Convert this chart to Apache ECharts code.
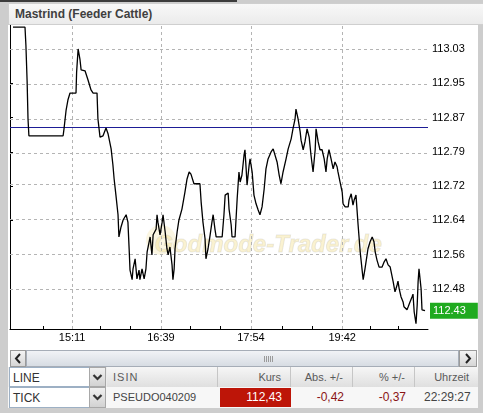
<!DOCTYPE html>
<html>
<head>
<meta charset="utf-8">
<script src="https://cdn.jsdelivr.net/npm/echarts@6.0.0/dist/echarts.min.js"></script>
<style>
  body { margin: 0; background: #cdcdcd; font-family: "Liberation Sans", Arial, sans-serif; }
  #frame { position: relative; width: 483px; height: 413px; overflow: hidden; background: #cdcdcd; }
  #tabbar { position: absolute; left: 0; top: 0; width: 237px; height: 2px; background: #3c3c3c; }
  #panel { position: absolute; left: 8px; top: 3px; width: 470px; height: 405px; background: #fff; }
  #titlebar { position: absolute; left: 8px; top: 3px; width: 468px; height: 20px; background: linear-gradient(#f8f8f8, #ebebeb);
    border: 1px solid #cfcfcf; font-weight: bold; font-size: 12px; color: #3f3f3f; line-height: 20px; padding-left: 6px; box-sizing: content-box; }
  #chart { position: absolute; left: 8px; top: 25px; width: 470px; height: 323px; }
  .btn { position: absolute; top: 350px; height: 15px; background: linear-gradient(#f4f4f4, #d6d6d6); border: 1px solid #9a9a9a; box-sizing: content-box; }
  #thumb { position: absolute; left: 26px; top: 350px; width: 431px; height: 15px; background: linear-gradient(#f1f3f6, #d7dce3); border: 1px solid #a6adb7; }
  #grip { position: absolute; left: 237px; top: 5px; width: 10px; height: 6px; background: repeating-linear-gradient(90deg, #9a9a9a 0 1px, transparent 1px 2px); }
  .row { position: absolute; left: 8px; width: 470px; }
  .cell { position: absolute; top: 0; height: 100%; box-sizing: border-box; font-size: 11px; padding: 0 9px; white-space: nowrap; }
  .hdr { background: linear-gradient(#f6f6f6, #dfdfdf); border-right: 1px solid #c6c6c6; color: #5a5a5a; }
  .sel { background: #fff; border: 1px solid #9db0c4; color: #333; padding-left: 3px; font-size: 12px; }
  .arr { background: linear-gradient(#f0f0f0, #d2d2d2); border: 1px solid #a8a8a8; padding: 0; }
  .r { text-align: right; }
</style>
</head>
<body>
<div id="frame">
  <div id="tabbar"></div>
  <div id="panel"></div>
  <div id="titlebar">Mastrind (Feeder Cattle)</div>
  <div id="chart"></div>

  <div class="btn" style="left:10px;width:14px;"><svg width="14" height="15"><polyline points="9,3 5,7.5 9,12" fill="none" stroke="#222" stroke-width="2"/></svg></div>
  <div id="thumb"><div id="grip"></div></div>
  <div class="btn" style="left:459px;width:16px;"><svg width="16" height="15"><polyline points="6,3 10,7.5 6,12" fill="none" stroke="#222" stroke-width="2"/></svg></div>

  <div class="row" style="top:367px;height:20px;line-height:20px;background:#ececec;">
    <div class="cell sel" style="left:1px;width:81px;">LINE</div>
    <div class="cell arr" style="left:81px;width:17px;"><svg width="15" height="18"><polyline points="3.5,7 7.5,11 11.5,7" fill="none" stroke="#333" stroke-width="2.2"/></svg></div>
    <div class="cell hdr" style="left:99px;width:111px;letter-spacing:1px;padding-left:6px;">ISIN</div>
    <div class="cell hdr r" style="left:210px;width:73px;">Kurs</div>
    <div class="cell hdr r" style="left:283px;width:62px;">Abs. +/-</div>
    <div class="cell hdr r" style="left:345px;width:62px;">% +/-</div>
    <div class="cell hdr r" style="left:407px;width:63px;border-right:none;">Uhrzeit</div>
  </div>
  <div class="row" style="top:387px;height:21px;line-height:21px;background:#f7f7f7;">
    <div class="cell sel" style="left:1px;width:81px;">TICK</div>
    <div class="cell arr" style="left:81px;width:17px;"><svg width="15" height="18"><polyline points="3.5,7 7.5,11 11.5,7" fill="none" stroke="#333" stroke-width="2.2"/></svg></div>
    <div class="cell" style="left:99px;width:111px;color:#444;padding-left:6px;">PSEUDO040209</div>
    <div class="cell r" style="left:212px;top:1px;height:19px;line-height:19px;width:71px;background:#bd1508;color:#fff;font-size:12px;">112,43</div>
    <div class="cell r" style="left:283px;width:62px;color:#8a1414;font-size:12px;">-0,42</div>
    <div class="cell r" style="left:345px;width:62px;color:#8a1414;font-size:12px;">-0,37</div>
    <div class="cell r" style="left:407px;width:63px;color:#444;font-size:12px;">22:29:27</div>
  </div>
</div>

<script>
// tick number along the axis (one unit per tick group) and price
const tickNo = [1.0, 5.0, 5.3, 5.7, 6.0, 6.3, 17.7, 18.0, 18.7, 19.3, 20.0, 22.0, 22.2, 22.7, 23.3, 23.7, 25.0, 26.0, 27.0, 27.7,
  29.0, 29.3, 30.0, 31.0, 32.0, 32.7, 33.7, 34.3, 34.7, 35.3, 36.0, 36.3, 37.0, 37.7, 38.7, 39.3, 39.7, 40.0, 40.7, 41.0,
  41.7, 42.3, 43.0, 43.3, 44.0, 44.7, 45.3, 45.7, 46.7, 47.3, 47.7, 48.7, 49.0, 49.3, 50.0, 50.7, 51.0, 51.7, 52.3, 52.7,
  53.3, 54.0, 54.3, 54.7, 55.0, 55.7, 56.3, 57.3, 58.3, 59.0, 59.7, 60.3, 61.3, 63.3, 63.7, 64.3, 65.0, 65.3, 66.0, 66.7,
  67.3, 67.7, 68.3, 68.7, 70.7, 71.3, 71.7, 72.7, 73.0, 73.7, 74.0, 75.0, 75.7, 76.3, 76.7, 77.3, 78.0, 78.3, 78.7, 79.0,
  79.7, 80.0, 80.7, 81.3, 82.0, 82.7, 83.3, 84.0, 84.7, 85.3, 86.0, 87.0, 87.7, 88.3, 89.0, 89.7, 90.3, 91.0, 92.0, 92.7,
  93.7, 94.3, 95.0, 95.3, 96.0, 96.7, 97.0, 97.7, 98.3, 99.0, 99.7, 100.3, 101.0, 101.7, 102.0, 102.7, 103.3, 104.0, 104.7, 105.3,
  105.7, 106.3, 107.0, 107.7, 108.3, 109.0, 109.3, 110.0, 110.7, 111.0, 111.7, 112.7, 113.0, 113.7, 114.3, 114.7, 115.3, 115.7, 116.0, 116.7,
  117.3, 117.7, 118.3, 119.0, 119.3, 120.0, 120.7, 121.3, 121.7, 122.3, 123.0, 124.0, 124.7, 125.3, 126.0, 126.7, 127.3, 127.7, 128.3, 129.0,
  129.3, 129.7, 130.3, 131.0, 131.3, 132.3, 132.7, 133.3, 134.0, 134.3, 134.7, 135.3, 135.7, 136.0, 136.3, 137.0, 137.3, 138.3];
const price = [113.080, 113.080, 113.039, 112.957, 112.870, 112.831, 112.831, 112.847, 112.890, 112.913, 112.929, 112.929, 112.977, 113.030, 113.007, 112.982, 112.980, 112.959, 112.936, 112.929,
  112.929, 112.870, 112.828, 112.831, 112.849, 112.835, 112.801, 112.764, 112.732, 112.695, 112.650, 112.599, 112.622, 112.638, 112.650, 112.633, 112.572, 112.523, 112.501, 112.526,
  112.549, 112.503, 112.523, 112.501, 112.526, 112.503, 112.526, 112.565, 112.599, 112.558, 112.604, 112.617, 112.650, 112.633, 112.604, 112.633, 112.650, 112.611, 112.572, 112.558,
  112.576, 112.535, 112.501, 112.526, 112.572, 112.611, 112.638, 112.663, 112.702, 112.732, 112.748, 112.743, 112.721, 112.721, 112.679, 112.633, 112.595, 112.549, 112.572, 112.604,
  112.633, 112.650, 112.617, 112.599, 112.599, 112.650, 112.695, 112.700, 112.663, 112.627, 112.599, 112.599, 112.686, 112.748, 112.725, 112.741, 112.787, 112.799, 112.755, 112.718,
  112.764, 112.778, 112.748, 112.695, 112.675, 112.661, 112.650, 112.668, 112.709, 112.755, 112.778, 112.794, 112.801, 112.799, 112.771, 112.741, 112.721, 112.748, 112.778, 112.801,
  112.824, 112.847, 112.870, 112.892, 112.870, 112.840, 112.821, 112.799, 112.817, 112.847, 112.828, 112.787, 112.748, 112.799, 112.847, 112.817, 112.799, 112.799, 112.778, 112.748,
  112.778, 112.799, 112.778, 112.755, 112.771, 112.760, 112.748, 112.725, 112.702, 112.675, 112.668, 112.668, 112.684, 112.698, 112.672, 112.684, 112.695, 112.698, 112.627, 112.565,
  112.526, 112.501, 112.526, 112.558, 112.572, 112.588, 112.599, 112.588, 112.565, 112.546, 112.530, 112.530, 112.542, 112.549, 112.535, 112.530, 112.526, 112.496, 112.473, 112.489,
  112.498, 112.480, 112.462, 112.450, 112.439, 112.432, 112.439, 112.450, 112.462, 112.468, 112.427, 112.400, 112.443, 112.496, 112.526, 112.480, 112.432, 112.430];

const priceTicks = [112.48, 112.5586, 112.6371, 112.7157, 112.7943, 112.8729, 112.9514, 113.03];
const timeTickPos = [20.7, 50.3, 80.3, 110.7];
const timeLabels = ['15:11', '16:39', '17:54', '19:42'];
const minorTickPos = [11, 20.7, 30, 40, 50.3, 60, 70, 80.3, 90.7, 100.7, 110.7, 120, 129.3];
const prevClose = 112.85;
const lastPrice = 112.43;

const font = 'Liberation Sans';
const myChart = echarts.init(document.getElementById('chart'));

const gridStyle = {color: '#b4b4b4', type: [3, 3], width: 1};
const gridLines = priceTicks.map(v => ({yAxis: v}))
  .concat(timeTickPos.map(v => ({xAxis: v})));

myChart.setOption({
  animation: false,
  backgroundColor: '#fff',
  grid: {left: 2, right: 50, top: 0, bottom: 19},
  graphic: [
    {type: 'circle', shape: {cx: 153, cy: 215, r: 15}, style: {fill: 'rgba(240,222,150,0.28)'}, z: 0},
    {type: 'text', x: 260, y: 220, z: 0, style: {
      text: 'Godmode-Trader.de', font: 'italic bold 24px ' + font, textAlign: 'center', textVerticalAlign: 'middle',
      fill: 'rgba(242,222,140,0.4)', stroke: 'rgba(215,215,215,0.55)', lineWidth: 1
    }}
  ],
  xAxis: {
    type: 'value', min: 0, max: 139.3,
    axisLine: {lineStyle: {color: '#000', width: 1}},
    axisTick: {inside: true, length: 3, customValues: minorTickPos, lineStyle: {color: '#000'}},
    axisLabel: {
      customValues: timeTickPos, margin: 3, fontSize: 11, color: '#000', fontFamily: font,
      formatter: function (v) {
        let best = 0
        for (let i in timeTickPos) {
          if (Math.abs(timeTickPos[i] - v) < Math.abs(timeTickPos[best] - v)) best = i
        }
        return timeLabels[best]
      }
    },
    splitLine: {show: false}
  },
  yAxis: {
    type: 'value', position: 'right', min: 112.388, max: 113.085,
    axisLine: {show: true, lineStyle: {color: '#000', width: 1}},
    axisTick: {show: true, length: 3, customValues: priceTicks, lineStyle: {color: '#000'}},
    axisLabel: {customValues: priceTicks, margin: 4, fontSize: 11, color: '#000', fontFamily: font,
      formatter: v => v.toFixed(2)},
    splitLine: {show: false}
  },
  series: [
    {
      type: 'line', data: [], silent: true,
      markLine: {symbol: 'none', silent: true, animation: false, label: {show: false},
        lineStyle: gridStyle, data: gridLines}
    },
    {
      type: 'line', data: [], silent: true,
      markLine: {symbol: 'none', silent: true, animation: false,
        data: [
          {yAxis: prevClose, lineStyle: {color: '#1d1d96', width: 1.2, type: 'solid'}, label: {show: false}}
        ]}
    },
    {
      type: 'line', data: [], silent: true, z: 6,
      markLine: {symbol: 'none', silent: true, animation: false,
        lineStyle: {color: 'rgba(0,0,0,0)', width: 0},
        label: {
          show: true, position: 'end', distance: 2, formatter: lastPrice.toFixed(2),
          backgroundColor: '#1faa1f', color: '#fff', fontSize: 11, fontFamily: font,
          padding: [3, 12, 2, 3]
        },
        data: [{yAxis: lastPrice}]}
    },
    {
      type: 'line', z: 5, symbol: 'none', silent: true,
      lineStyle: {color: '#000', width: 1.3},
      data: tickNo.map((t, i) => [t, price[i]])
    }
  ]
});
</script>
</body>
</html>
